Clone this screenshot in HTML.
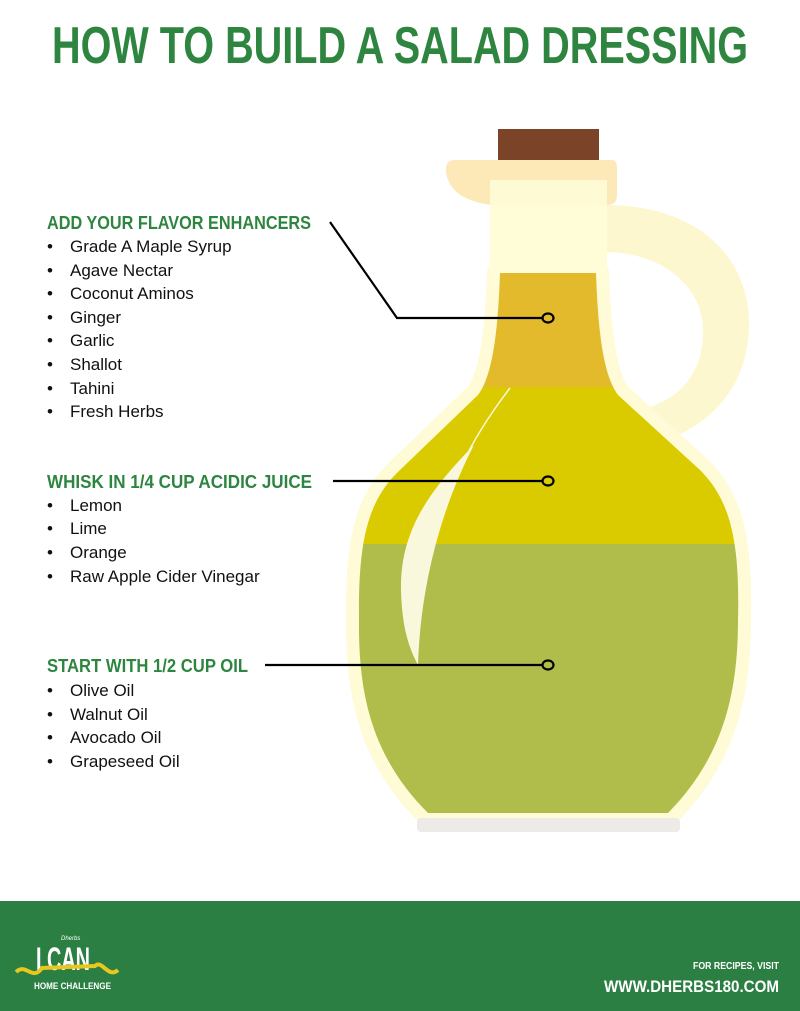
<!DOCTYPE html>
<html><head><meta charset="utf-8"><style>
html,body{margin:0;padding:0;background:#fff;}
svg{display:block}
text{font-family:"Liberation Sans",sans-serif}
</style></head><body>
<svg width="800" height="1011" viewBox="0 0 800 1011" xmlns="http://www.w3.org/2000/svg">
<rect width="800" height="1011" fill="#fff"/>
<text x="52" y="63" font-size="52" font-weight="bold" fill="#2e8540" textLength="696" lengthAdjust="spacingAndGlyphs">HOW TO BUILD A SALAD DRESSING</text>

<!-- handle -->
<path d="M600,205 C700,203 750,260 749,325 C748,385 715,420 668,440 L640,410 C685,398 703,370 703,330 C703,285 660,252 605,252 Z" fill="#fdf7cf"/>
<!-- outer glass -->
<path d="M500,273 L596,273 C598,330 603,375 618,395 L700,470 C730,500 740,540 738,620 C738,700 720,760 668,813 L428,813 C375,760 358,700 359,620 C358,540 368,500 400,470 L478,395 C493,375 498,330 500,273 Z" fill="#fefbd6" stroke="#fefbd6" stroke-width="26" stroke-linejoin="round"/>
<rect x="490" y="180" width="117" height="110" fill="#fefdd8"/>
<!-- lip -->
<path d="M455,160 L612,160 Q617,160 617,168 L617,195 Q617,205 607,205 L492,205 Q450,200 446,172 Q445,160 455,160 Z" fill="#fde8b8"/>
<rect x="490" y="180" width="117" height="25" fill="#fefbd4"/>
<!-- cork -->
<rect x="498" y="129" width="101" height="31" fill="#7b4428"/>
<!-- shadow -->
<rect x="417" y="818" width="263" height="14" rx="4" fill="#eeeae8"/>
<clipPath id="c"><path d="M500,273 L596,273 C598,330 603,375 618,395 L700,470 C730,500 740,540 738,620 C738,700 720,760 668,813 L428,813 C375,760 358,700 359,620 C358,540 368,500 400,470 L478,395 C493,375 498,330 500,273 Z"/></clipPath>
<g clip-path="url(#c)">
<rect x="300" y="270" width="500" height="117" fill="#e2ba2c"/>
<rect x="300" y="387" width="500" height="157" fill="#d9cb00"/>
<rect x="300" y="544" width="500" height="280" fill="#b1bd4b"/>
</g>
<!-- highlight -->
<path d="M474,445 C430,490 400,530 401,590 C402,630 410,650 418,665 C420,600 435,520 474,445 Z" fill="#faf8dc"/>
<path d="M510,388 C470,440 445,490 430,560" stroke="#faf8dc" stroke-width="1.5" fill="none"/>

<!-- connectors -->
<g stroke="#000" stroke-width="2.2" fill="none">
<polyline points="330,222 397,318 543,318"/>
<line x1="333" y1="481" x2="543" y2="481"/>
<line x1="265" y1="665" x2="543" y2="665"/>
<ellipse cx="548" cy="318" rx="5.5" ry="4.5"/>
<ellipse cx="548" cy="481" rx="5.5" ry="4.5"/>
<ellipse cx="548" cy="665" rx="5.5" ry="4.5"/>
</g>

<g fill="#2e8540" font-size="18" font-weight="bold">
<text x="47" y="229" textLength="264" lengthAdjust="spacingAndGlyphs">ADD YOUR FLAVOR ENHANCERS</text>
<text x="47" y="488" textLength="265" lengthAdjust="spacingAndGlyphs">WHISK IN 1/4 CUP ACIDIC JUICE</text>
<text x="47" y="672" textLength="201" lengthAdjust="spacingAndGlyphs">START WITH 1/2 CUP OIL</text>
</g>
<g fill="#111" font-size="17">
<text x="47" y="252">•</text><text x="70" y="252">Grade A Maple Syrup</text>
<text x="47" y="276">•</text><text x="70" y="276">Agave Nectar</text>
<text x="47" y="299">•</text><text x="70" y="299">Coconut Aminos</text>
<text x="47" y="323">•</text><text x="70" y="323">Ginger</text>
<text x="47" y="346">•</text><text x="70" y="346">Garlic</text>
<text x="47" y="370">•</text><text x="70" y="370">Shallot</text>
<text x="47" y="394">•</text><text x="70" y="394">Tahini</text>
<text x="47" y="417">•</text><text x="70" y="417">Fresh Herbs</text>
<text x="47" y="511">•</text><text x="70" y="511">Lemon</text>
<text x="47" y="534">•</text><text x="70" y="534">Lime</text>
<text x="47" y="558">•</text><text x="70" y="558">Orange</text>
<text x="47" y="582">•</text><text x="70" y="582">Raw Apple Cider Vinegar</text>
<text x="47" y="696">•</text><text x="70" y="696">Olive Oil</text>
<text x="47" y="720">•</text><text x="70" y="720">Walnut Oil</text>
<text x="47" y="743">•</text><text x="70" y="743">Avocado Oil</text>
<text x="47" y="767">•</text><text x="70" y="767">Grapeseed Oil</text>
</g>

<!-- footer -->
<rect x="0" y="901" width="800" height="110" fill="#2b7f42"/>
<text x="61" y="940" font-size="6" fill="#fff" font-style="italic">Dherbs</text>
<text x="36" y="970" font-size="32" font-weight="bold" fill="#fff" textLength="54" lengthAdjust="spacingAndGlyphs">I CAN</text>
<path d="M16,972 C26,962 32,982 42,968 L95,966 C102,959 108,979 118,970" stroke="#e8c71f" stroke-width="4" fill="none"/>
<text x="34" y="989" font-size="9" fill="#fff" font-weight="bold" textLength="77" lengthAdjust="spacingAndGlyphs">HOME CHALLENGE</text>
<text x="779" y="969" font-size="10" font-weight="bold" fill="#fff" text-anchor="end" textLength="86" lengthAdjust="spacingAndGlyphs">FOR RECIPES, VISIT</text>
<text x="779" y="992" font-size="17" font-weight="bold" fill="#fff" text-anchor="end" textLength="175" lengthAdjust="spacingAndGlyphs">WWW.DHERBS180.COM</text>
</svg>
</body></html>
